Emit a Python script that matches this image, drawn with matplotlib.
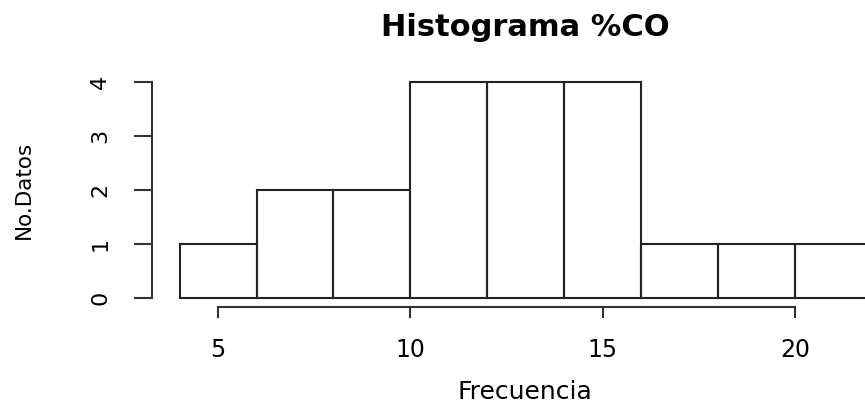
import numpy as np
import matplotlib.pyplot as plt

plt.rcParams['font.family'] = ['DejaVu Sans']

# bin edges and counts
edges = [4, 6, 8, 10, 12, 14, 16, 18, 20, 22]
counts = [1, 2, 2, 4, 4, 4, 1, 1, 1]
xticks = [5, 10, 15, 20]
yticks = [0, 1, 2, 3, 4]

W, H = 865, 408
fig = plt.figure(figsize=(W / 100, H / 100), dpi=100)

# plot region in pixels (R style, right side runs past the image edge)
left, right, bottom, top = 152, 899.4, 307, 73.4
ax = fig.add_axes([left / W, 1 - bottom / H, (right - left) / W, (bottom - top) / H])

widths = np.diff(edges)
ax.bar(edges[:-1], counts, width=widths, align='edge', fill=False,
       edgecolor='#222222', linewidth=1.5)

ax.set_xlim(3.28, 22.72)
ax.set_ylim(-0.16, 4.16)

for s in ['top', 'right']:
    ax.spines[s].set_visible(False)
ax.spines['left'].set_bounds(0, 4)
ax.spines['bottom'].set_bounds(5, 20)
for s in ['left', 'bottom']:
    ax.spines[s].set_color('#333333')
    ax.spines[s].set_linewidth(1.5)

ax.set_xticks(xticks)
ax.set_yticks(yticks)
ax.tick_params(axis='x', length=8, width=1.5, color='#333333', pad=14, labelsize=17)
ax.tick_params(axis='y', length=13, width=1.5, color='#333333', pad=17, labelsize=16)
for lab in ax.get_yticklabels():
    lab.set_rotation(90)
    lab.set_va('center')

ax.set_title('Histograma %CO', fontsize=22, fontweight='bold', pad=27)
fig.text(525 / W, 1 - 392 / H, 'Frecuencia', ha='center', va='center', fontsize=18)
fig.text(24 / W, 1 - 190 / H, 'No.Datos', ha='center', va='center', rotation=90, fontsize=15.5)

fig.savefig('out.png', dpi=100)
